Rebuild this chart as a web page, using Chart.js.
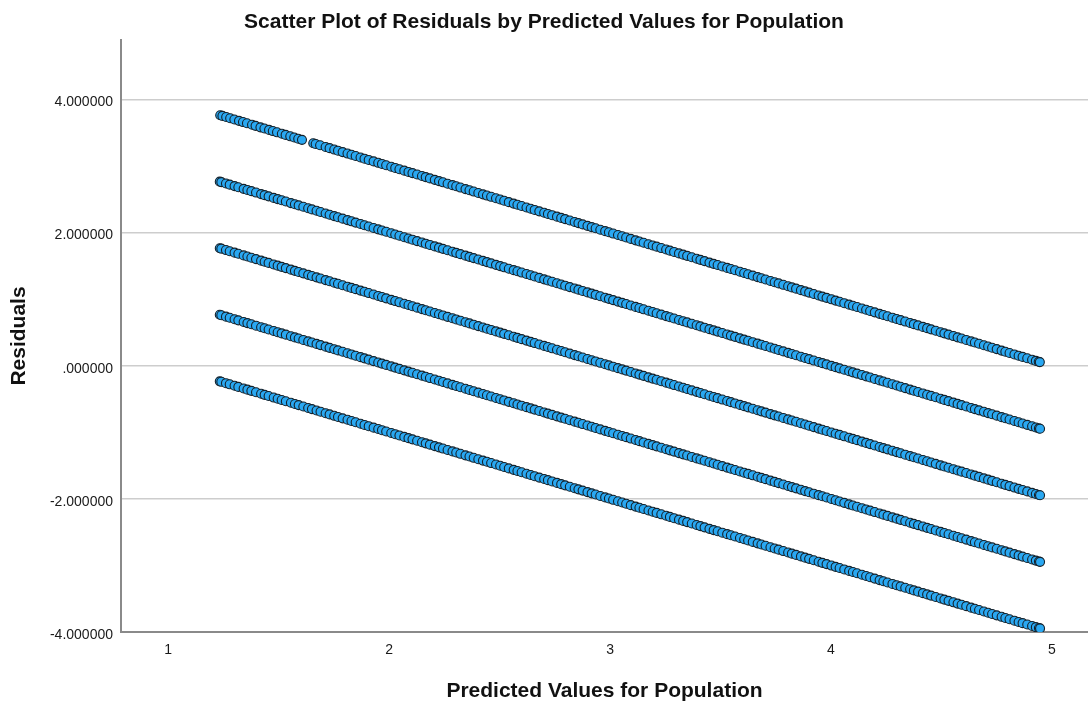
<!DOCTYPE html>
<html>
<head>
<meta charset="utf-8">
<title>Residuals by Predicted Values</title>
<script src="https://cdn.jsdelivr.net/npm/chart.js@4.4.1/dist/chart.umd.min.js"></script>
<style>
  html, body { margin: 0; padding: 0; background: #ffffff; }
  canvas { display: block; }
</style>
</head>
<body>
<canvas id="chart" width="1088" height="703"></canvas>
<script>
// Observed population scores (1-5); residual = observed - predicted
const observedLevels = [1, 2, 3, 4, 5];

// Predicted values of the cases observed at levels 1-4
const predictedValues = [
  1.234, 1.241, 1.262, 1.279, 1.301, 1.318, 1.342, 1.359, 1.377, 1.398, 1.421, 1.437, 1.455, 1.478, 1.496,
  1.514, 1.533, 1.556, 1.574, 1.591, 1.612, 1.634, 1.651, 1.672, 1.690, 1.713, 1.731, 1.752, 1.769, 1.790,
  1.812, 1.830, 1.849, 1.871, 1.889, 1.908, 1.930, 1.951, 1.968, 1.987, 2.010, 2.028, 2.047, 2.069, 2.088,
  2.106, 2.127, 2.149, 2.166, 2.185, 2.207, 2.226, 2.244, 2.265, 2.287, 2.304, 2.323, 2.346, 2.364, 2.383,
  2.404, 2.425, 2.443, 2.462, 2.484, 2.503, 2.521, 2.542, 2.564, 2.581, 2.600, 2.622, 2.641, 2.659, 2.680,
  2.702, 2.719, 2.738, 2.760, 2.779, 2.797, 2.818, 2.840, 2.857, 2.876, 2.898, 2.917, 2.935, 2.956, 2.978,
  2.995, 3.014, 3.036, 3.055, 3.073, 3.094, 3.116, 3.133, 3.152, 3.174, 3.193, 3.211, 3.232, 3.254, 3.271,
  3.290, 3.312, 3.331, 3.349, 3.370, 3.392, 3.409, 3.428, 3.450, 3.469, 3.487, 3.508, 3.530, 3.547, 3.566,
  3.588, 3.607, 3.625, 3.646, 3.668, 3.685, 3.704, 3.726, 3.745, 3.763, 3.784, 3.806, 3.823, 3.842, 3.864,
  3.883, 3.901, 3.922, 3.944, 3.961, 3.980, 4.002, 4.021, 4.039, 4.060, 4.082, 4.099, 4.118, 4.140, 4.159,
  4.177, 4.198, 4.220, 4.237, 4.256, 4.278, 4.297, 4.315, 4.336, 4.358, 4.375, 4.394, 4.416, 4.435, 4.453,
  4.474, 4.496, 4.513, 4.532, 4.554, 4.573, 4.591, 4.612, 4.634, 4.651, 4.670, 4.692, 4.711, 4.729, 4.750,
  4.772, 4.789, 4.808, 4.830, 4.849, 4.867, 4.888, 4.910, 4.927, 4.941, 4.946
];

// Predicted values of the cases observed at level 5
const predictedTopLevel = [
  1.236, 1.246, 1.263, 1.281, 1.300, 1.321, 1.339, 1.357, 1.380, 1.396, 1.418, 1.436, 1.457, 1.474, 1.493,
  1.515, 1.532, 1.553, 1.571, 1.589, 1.606, 1.657, 1.668, 1.688, 1.713, 1.731, 1.752, 1.769, 1.790,
  1.812, 1.830, 1.849, 1.871, 1.889, 1.908, 1.930, 1.951, 1.968, 1.987, 2.010, 2.028, 2.047, 2.069, 2.088,
  2.106, 2.127, 2.149, 2.166, 2.185, 2.207, 2.226, 2.244, 2.265, 2.287, 2.304, 2.323, 2.346, 2.364, 2.383,
  2.404, 2.425, 2.443, 2.462, 2.484, 2.503, 2.521, 2.542, 2.564, 2.581, 2.600, 2.622, 2.641, 2.659, 2.680,
  2.702, 2.719, 2.738, 2.760, 2.779, 2.797, 2.818, 2.840, 2.857, 2.876, 2.898, 2.917, 2.935, 2.956, 2.978,
  2.995, 3.014, 3.036, 3.055, 3.073, 3.094, 3.116, 3.133, 3.152, 3.174, 3.193, 3.211, 3.232, 3.254, 3.271,
  3.290, 3.312, 3.331, 3.349, 3.370, 3.392, 3.409, 3.428, 3.450, 3.469, 3.487, 3.508, 3.530, 3.547, 3.566,
  3.588, 3.607, 3.625, 3.646, 3.668, 3.685, 3.704, 3.726, 3.745, 3.763, 3.784, 3.806, 3.823, 3.842, 3.864,
  3.883, 3.901, 3.922, 3.944, 3.961, 3.980, 4.002, 4.021, 4.039, 4.060, 4.082, 4.099, 4.118, 4.140, 4.159,
  4.177, 4.198, 4.220, 4.237, 4.256, 4.278, 4.297, 4.315, 4.336, 4.358, 4.375, 4.394, 4.416, 4.435, 4.453,
  4.474, 4.496, 4.513, 4.532, 4.554, 4.573, 4.591, 4.612, 4.634, 4.651, 4.670, 4.692, 4.711, 4.729, 4.750,
  4.772, 4.789, 4.808, 4.830, 4.849, 4.867, 4.888, 4.910, 4.927, 4.940, 4.945
];

// Axis tick values
const xTickValues = [1, 2, 3, 4, 5];
const yTickValues = [-4, -2, 0, 2, 4];

const FONT = "'Liberation Sans', Arial, sans-serif";

function residualPoints(level, predicted) {
  return predicted.map(p => ({ x: p, y: level - p }));
}

const datasets = observedLevels.map(level => ({
  label: 'Observed ' + level,
  data: residualPoints(level, level === 5 ? predictedTopLevel : predictedValues),
  pointRadius: 4.5,
  pointHoverRadius: 4.5,
  pointBackgroundColor: '#2aa8f2',
  pointBorderColor: '#15212a',
  pointBorderWidth: 1.1,
  showLine: false
}));

function formatResidual(v) {
  let s = Number(v).toFixed(6);
  if (s.startsWith('0.')) s = s.slice(1);
  if (s.startsWith('-0.')) s = '-' + s.slice(2);
  return s;
}

new Chart(document.getElementById('chart'), {
  type: 'scatter',
  data: { datasets },
  options: {
    responsive: false,
    animation: false,
    devicePixelRatio: 1,
    layout: { padding: 0, autoPadding: false },
    plugins: {
      legend: { display: false },
      tooltip: { enabled: false },
      title: {
        display: true,
        text: 'Scatter Plot of Residuals by Predicted Values for Population',
        color: '#111111',
        font: { family: FONT, size: 21, weight: 'bold', lineHeight: 1 },
        padding: { top: 12, bottom: 7 }
      }
    },
    scales: {
      x: {
        type: 'linear',
        min: 0.787,
        max: 5.163,
        afterBuildTicks: s => { s.ticks = xTickValues.map(v => ({ value: v })); },
        afterFit: s => { s.height = 71; },
        grid: { display: false, drawTicks: false },
        border: { display: true, color: '#8a8a8a', width: 2 },
        ticks: {
          padding: 10,
          color: '#1a1a1a',
          font: { family: FONT, size: 14 },
          callback: v => String(v)
        },
        title: {
          display: true,
          text: 'Predicted Values for Population',
          color: '#111111',
          font: { family: FONT, size: 21, weight: 'bold', lineHeight: 1 },
          padding: { top: 0, bottom: 1 }
        }
      },
      y: {
        type: 'linear',
        min: -4,
        max: 4.894,
        afterBuildTicks: s => { s.ticks = yTickValues.map(v => ({ value: v })); },
        afterFit: s => { s.width = 121; },
        grid: { color: '#cdcdcd', lineWidth: 1.5, drawTicks: false },
        border: { display: true, color: '#8a8a8a', width: 2 },
        ticks: {
          padding: 8,
          labelOffset: 3,
          color: '#1a1a1a',
          font: { family: FONT, size: 14 },
          callback: v => formatResidual(v)
        },
        title: {
          display: true,
          text: 'Residuals',
          color: '#111111',
          font: { family: FONT, size: 21, weight: 'bold', lineHeight: 1 },
          padding: { top: 9, bottom: 0 }
        }
      }
    }
  }
});
</script>
</body>
</html>
